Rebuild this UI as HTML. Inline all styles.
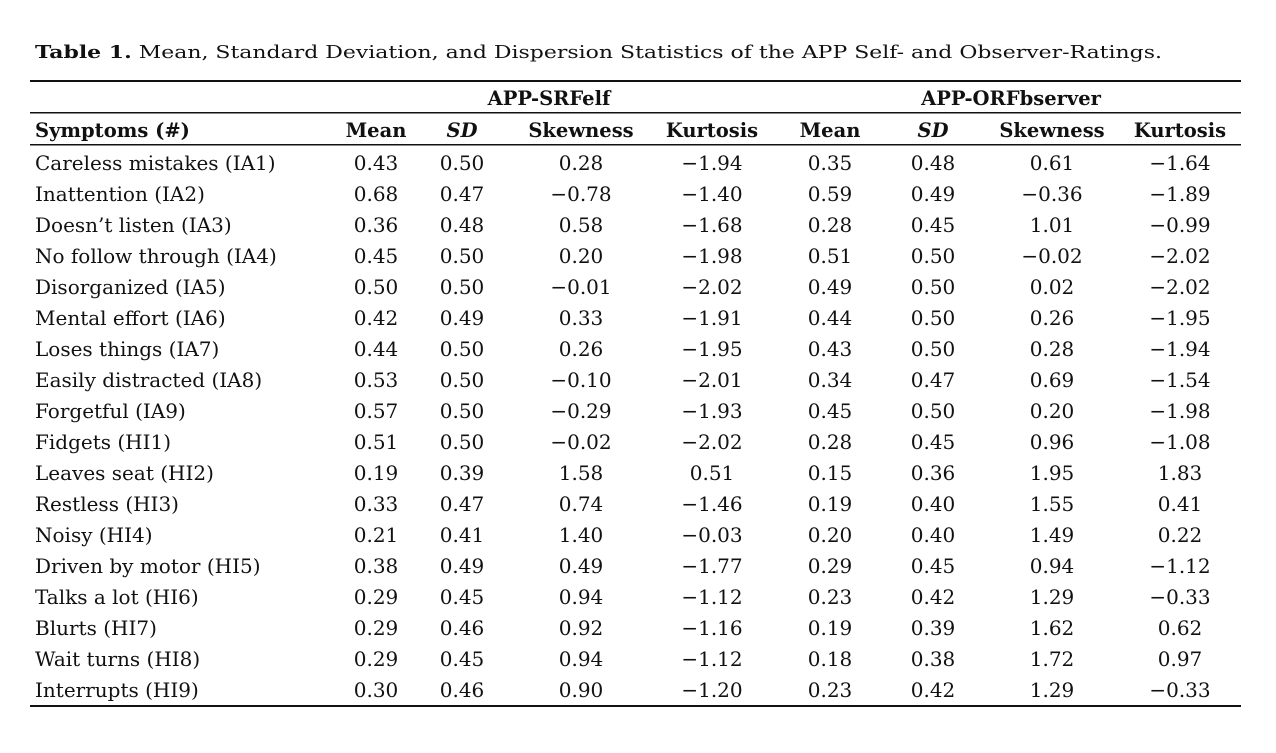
<!DOCTYPE html>
<html><head><meta charset="utf-8"><style>
html,body{margin:0;padding:0;background:#fff;}
svg{display:block;}
text{font-family:"DejaVu Serif","Liberation Serif",serif;font-size:20px;fill:#111;}
.b{font-weight:bold;font-size:19.5px;}
.n{text-anchor:middle;}
</style></head><body>
<svg width="1276" height="753" xmlns="http://www.w3.org/2000/svg">
<text x="35" y="58" style="font-size:18px" textLength="1127" lengthAdjust="spacingAndGlyphs"><tspan font-weight="bold">Table 1.</tspan> Mean, Standard Deviation, and Dispersion Statistics of the APP Self- and Observer-Ratings.</text>
<rect x="30" y="80" width="1211" height="2" fill="#111"/>
<text class="b n" x="549" y="105">APP-SRFelf</text>
<text class="b n" x="1011" y="105">APP-ORFbserver</text>
<rect x="30" y="112" width="1211" height="1.5" fill="#111"/>
<text class="b" x="35" y="137">Symptoms (#)</text>
<text class="b n" x="376" y="137">Mean</text>
<text class="b n" x="462" y="137" font-style="italic">SD</text>
<text class="b n" x="581" y="137">Skewness</text>
<text class="b n" x="712" y="137">Kurtosis</text>
<text class="b n" x="830" y="137">Mean</text>
<text class="b n" x="933" y="137" font-style="italic">SD</text>
<text class="b n" x="1052" y="137">Skewness</text>
<text class="b n" x="1180" y="137">Kurtosis</text>
<rect x="30" y="144" width="1211" height="1.5" fill="#111"/>

<text x="35" y="170">Careless mistakes (IA1)</text><text class="n" x="376" y="170">0.43</text><text class="n" x="462" y="170">0.50</text><text class="n" x="581" y="170">0.28</text><text class="n" x="712" y="170">−1.94</text><text class="n" x="830" y="170">0.35</text><text class="n" x="933" y="170">0.48</text><text class="n" x="1052" y="170">0.61</text><text class="n" x="1180" y="170">−1.64</text>
<text x="35" y="201">Inattention (IA2)</text><text class="n" x="376" y="201">0.68</text><text class="n" x="462" y="201">0.47</text><text class="n" x="581" y="201">−0.78</text><text class="n" x="712" y="201">−1.40</text><text class="n" x="830" y="201">0.59</text><text class="n" x="933" y="201">0.49</text><text class="n" x="1052" y="201">−0.36</text><text class="n" x="1180" y="201">−1.89</text>
<text x="35" y="232">Doesn’t listen (IA3)</text><text class="n" x="376" y="232">0.36</text><text class="n" x="462" y="232">0.48</text><text class="n" x="581" y="232">0.58</text><text class="n" x="712" y="232">−1.68</text><text class="n" x="830" y="232">0.28</text><text class="n" x="933" y="232">0.45</text><text class="n" x="1052" y="232">1.01</text><text class="n" x="1180" y="232">−0.99</text>
<text x="35" y="263">No follow through (IA4)</text><text class="n" x="376" y="263">0.45</text><text class="n" x="462" y="263">0.50</text><text class="n" x="581" y="263">0.20</text><text class="n" x="712" y="263">−1.98</text><text class="n" x="830" y="263">0.51</text><text class="n" x="933" y="263">0.50</text><text class="n" x="1052" y="263">−0.02</text><text class="n" x="1180" y="263">−2.02</text>
<text x="35" y="294">Disorganized (IA5)</text><text class="n" x="376" y="294">0.50</text><text class="n" x="462" y="294">0.50</text><text class="n" x="581" y="294">−0.01</text><text class="n" x="712" y="294">−2.02</text><text class="n" x="830" y="294">0.49</text><text class="n" x="933" y="294">0.50</text><text class="n" x="1052" y="294">0.02</text><text class="n" x="1180" y="294">−2.02</text>
<text x="35" y="325">Mental effort (IA6)</text><text class="n" x="376" y="325">0.42</text><text class="n" x="462" y="325">0.49</text><text class="n" x="581" y="325">0.33</text><text class="n" x="712" y="325">−1.91</text><text class="n" x="830" y="325">0.44</text><text class="n" x="933" y="325">0.50</text><text class="n" x="1052" y="325">0.26</text><text class="n" x="1180" y="325">−1.95</text>
<text x="35" y="356">Loses things (IA7)</text><text class="n" x="376" y="356">0.44</text><text class="n" x="462" y="356">0.50</text><text class="n" x="581" y="356">0.26</text><text class="n" x="712" y="356">−1.95</text><text class="n" x="830" y="356">0.43</text><text class="n" x="933" y="356">0.50</text><text class="n" x="1052" y="356">0.28</text><text class="n" x="1180" y="356">−1.94</text>
<text x="35" y="387">Easily distracted (IA8)</text><text class="n" x="376" y="387">0.53</text><text class="n" x="462" y="387">0.50</text><text class="n" x="581" y="387">−0.10</text><text class="n" x="712" y="387">−2.01</text><text class="n" x="830" y="387">0.34</text><text class="n" x="933" y="387">0.47</text><text class="n" x="1052" y="387">0.69</text><text class="n" x="1180" y="387">−1.54</text>
<text x="35" y="418">Forgetful (IA9)</text><text class="n" x="376" y="418">0.57</text><text class="n" x="462" y="418">0.50</text><text class="n" x="581" y="418">−0.29</text><text class="n" x="712" y="418">−1.93</text><text class="n" x="830" y="418">0.45</text><text class="n" x="933" y="418">0.50</text><text class="n" x="1052" y="418">0.20</text><text class="n" x="1180" y="418">−1.98</text>
<text x="35" y="449">Fidgets (HI1)</text><text class="n" x="376" y="449">0.51</text><text class="n" x="462" y="449">0.50</text><text class="n" x="581" y="449">−0.02</text><text class="n" x="712" y="449">−2.02</text><text class="n" x="830" y="449">0.28</text><text class="n" x="933" y="449">0.45</text><text class="n" x="1052" y="449">0.96</text><text class="n" x="1180" y="449">−1.08</text>
<text x="35" y="480">Leaves seat (HI2)</text><text class="n" x="376" y="480">0.19</text><text class="n" x="462" y="480">0.39</text><text class="n" x="581" y="480">1.58</text><text class="n" x="712" y="480">0.51</text><text class="n" x="830" y="480">0.15</text><text class="n" x="933" y="480">0.36</text><text class="n" x="1052" y="480">1.95</text><text class="n" x="1180" y="480">1.83</text>
<text x="35" y="511">Restless (HI3)</text><text class="n" x="376" y="511">0.33</text><text class="n" x="462" y="511">0.47</text><text class="n" x="581" y="511">0.74</text><text class="n" x="712" y="511">−1.46</text><text class="n" x="830" y="511">0.19</text><text class="n" x="933" y="511">0.40</text><text class="n" x="1052" y="511">1.55</text><text class="n" x="1180" y="511">0.41</text>
<text x="35" y="542">Noisy (HI4)</text><text class="n" x="376" y="542">0.21</text><text class="n" x="462" y="542">0.41</text><text class="n" x="581" y="542">1.40</text><text class="n" x="712" y="542">−0.03</text><text class="n" x="830" y="542">0.20</text><text class="n" x="933" y="542">0.40</text><text class="n" x="1052" y="542">1.49</text><text class="n" x="1180" y="542">0.22</text>
<text x="35" y="573">Driven by motor (HI5)</text><text class="n" x="376" y="573">0.38</text><text class="n" x="462" y="573">0.49</text><text class="n" x="581" y="573">0.49</text><text class="n" x="712" y="573">−1.77</text><text class="n" x="830" y="573">0.29</text><text class="n" x="933" y="573">0.45</text><text class="n" x="1052" y="573">0.94</text><text class="n" x="1180" y="573">−1.12</text>
<text x="35" y="604">Talks a lot (HI6)</text><text class="n" x="376" y="604">0.29</text><text class="n" x="462" y="604">0.45</text><text class="n" x="581" y="604">0.94</text><text class="n" x="712" y="604">−1.12</text><text class="n" x="830" y="604">0.23</text><text class="n" x="933" y="604">0.42</text><text class="n" x="1052" y="604">1.29</text><text class="n" x="1180" y="604">−0.33</text>
<text x="35" y="635">Blurts (HI7)</text><text class="n" x="376" y="635">0.29</text><text class="n" x="462" y="635">0.46</text><text class="n" x="581" y="635">0.92</text><text class="n" x="712" y="635">−1.16</text><text class="n" x="830" y="635">0.19</text><text class="n" x="933" y="635">0.39</text><text class="n" x="1052" y="635">1.62</text><text class="n" x="1180" y="635">0.62</text>
<text x="35" y="666">Wait turns (HI8)</text><text class="n" x="376" y="666">0.29</text><text class="n" x="462" y="666">0.45</text><text class="n" x="581" y="666">0.94</text><text class="n" x="712" y="666">−1.12</text><text class="n" x="830" y="666">0.18</text><text class="n" x="933" y="666">0.38</text><text class="n" x="1052" y="666">1.72</text><text class="n" x="1180" y="666">0.97</text>
<text x="35" y="697">Interrupts (HI9)</text><text class="n" x="376" y="697">0.30</text><text class="n" x="462" y="697">0.46</text><text class="n" x="581" y="697">0.90</text><text class="n" x="712" y="697">−1.20</text><text class="n" x="830" y="697">0.23</text><text class="n" x="933" y="697">0.42</text><text class="n" x="1052" y="697">1.29</text><text class="n" x="1180" y="697">−0.33</text>
<rect x="30" y="705" width="1211" height="2" fill="#111"/>
</svg>
</body></html>
